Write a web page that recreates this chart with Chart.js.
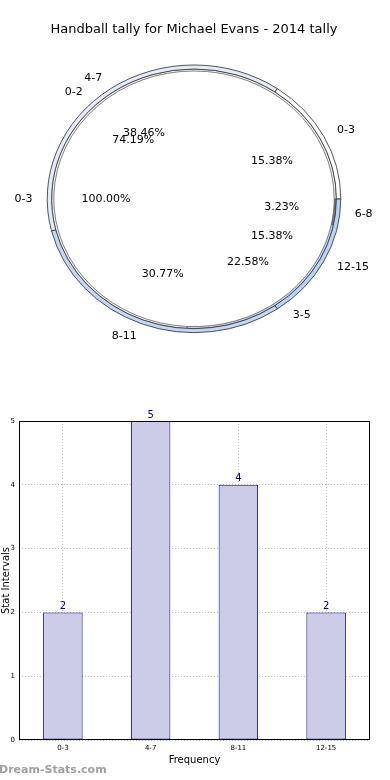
<!DOCTYPE html>
<html>
<head>
<meta charset="utf-8">
<script src="https://cdn.jsdelivr.net/npm/chart.js@4.4.1/dist/chart.umd.min.js"></script>
<style>
 body { margin: 0; background: #fff; width: 390px; height: 780px; position: relative; overflow: hidden; }
 #pieWrap { position: absolute; left: 0; top: 0; width: 390px; height: 400px; }
 #barWrap { position: absolute; left: 0; top: 400px; width: 390px; height: 380px; }
 #mark { position: absolute; left: -1px; top: 763px; font: bold 11px "DejaVu Sans", sans-serif; color: #a0a0a0; }
</style>
</head>
<body>
<div id="pieWrap"><canvas id="pieChart"></canvas></div>
<div id="barWrap"><canvas id="barChart"></canvas></div>
<div id="mark">Dream-Stats.com</div>
<script>
// データ
const chartTitle = "Handball tally for Michael Evans - 2014 tally";
const innerLabels = ["0-3"];
const innerValues = [1];
const middleLabels = ["0-2", "3-5", "6-8"];
const middleValues = [23, 7, 1];
const outerLabels = ["0-3", "4-7", "8-11", "12-15"];
const outerValues = [2, 5, 4, 2];
const barLabels = ["0-3", "4-7", "8-11", "12-15"];
const barValues = [2, 5, 4, 2];

const font = "DejaVu Sans";
const stretchX = 1.097; // 楕円っぽく横に伸ばす

// matplotlib は反時計回りなので逆順で時計回りに描く
const rev = a => a.slice().reverse();

const pieData = {
 labels: rev(outerLabels),
 datasets: [
  {
   data: rev(outerValues),
   names: rev(outerLabels),
   backgroundColor: rev(["#ffffff", "#e4ebfa", "#c4d6f6", "#b6d4fb"]),
   borderColor: "#333333",
   borderWidth: 0.8,
   weight: 4
  },
  {
   data: rev(middleValues),
   names: rev(middleLabels),
   backgroundColor: rev(["#f4f4f4", "#c8d8f0", "#7a7a7a"]),
   borderColor: "#555555",
   borderWidth: 0.7,
   weight: 2
  },
  {
   data: innerValues,
   names: innerLabels,
   backgroundColor: ["#ffffff"],
   borderWidth: 0,
   weight: 128
  }
 ]
};

const stretchPlugin = {
 id: "stretch",
 beforeDatasetsDraw(chart) {
  const a = chart.chartArea;
  const cx = (a.left + a.right) / 2, cy = (a.top + a.bottom) / 2;
  const ctx = chart.ctx;
  ctx.save();
  ctx.translate(cx, cy);
  ctx.scale(stretchX, 1);
  ctx.translate(-cx, -cy);
 },
 afterDatasetsDraw(chart) {
  chart.ctx.restore();
 }
};

const pieLabelPlugin = {
 id: "pieLabels",
 afterDraw(chart) {
  const ctx = chart.ctx;
  ctx.save();
  ctx.font = "11px " + font;
  ctx.fillStyle = "#000";
  ctx.textBaseline = "middle";
  chart.data.datasets.forEach((ds, i) => {
   const meta = chart.getDatasetMeta(i);
   const total = ds.data.reduce((s, v) => s + v, 0);
   meta.data.forEach((arc, j) => {
    const r = chart.getDatasetMeta(0).data[0].outerRadius;
    const mid = (arc.startAngle + arc.endAngle) / 2;
    const c = Math.cos(mid), s = Math.sin(mid);
    // パーセント
    ctx.textAlign = "center";
    ctx.fillText((ds.data[j] / total * 100).toFixed(2) + "%", arc.x + c * r * 0.6 * stretchX, arc.y + s * r * 0.6);
    // ラベル
    ctx.textAlign = c > 0.001 ? "left" : "right";
    ctx.fillText(ds.names[j], arc.x + c * r * 1.1 * stretchX, arc.y + s * r * 1.1);
   });
  });
  ctx.restore();
 }
};

new Chart(document.getElementById("pieChart"), {
 type: "doughnut",
 data: pieData,
 options: {
  responsive: true,
  maintainAspectRatio: false,
  animation: false,
  rotation: 90,
  cutout: 0,
  layout: { padding: { left: 0, right: 2, bottom: 67, top: 0 } },
  plugins: {
   legend: { display: false },
   tooltip: { enabled: false },
   title: {
    display: true,
    text: chartTitle,
    color: "#000",
    font: { family: font, size: 13, weight: "normal", lineHeight: 1.2 },
    padding: { top: 22, bottom: 27 }
   }
  }
 },
 plugins: [stretchPlugin, pieLabelPlugin]
});

// 棒グラフ
const boxPlugin = {
 id: "box",
 afterDraw(chart) {
  const a = chart.chartArea, ctx = chart.ctx;
  ctx.save();
  ctx.strokeStyle = "#000";
  ctx.lineWidth = 1;
  ctx.strokeRect(Math.round(a.left) + 0.5, Math.round(a.top) + 0.5, Math.round(a.right - a.left) - 1, Math.round(a.bottom - a.top) - 1);
  ctx.restore();
 }
};

const valuePlugin = {
 id: "values",
 afterDatasetsDraw(chart) {
  const ctx = chart.ctx;
  ctx.save();
  ctx.font = "10px " + font;
  ctx.fillStyle = "#00008b";
  ctx.textAlign = "center";
  ctx.textBaseline = "bottom";
  chart.getDatasetMeta(0).data.forEach((bar, i) => {
   ctx.fillText(String(barValues[i]), bar.x, bar.y - 1);
  });
  ctx.restore();
 }
};

new Chart(document.getElementById("barChart"), {
 type: "bar",
 data: {
  labels: barLabels,
  datasets: [{
   data: barValues,
   backgroundColor: "#cccce6",
   borderColor: "#00008b",
   borderWidth: 1,
   borderSkipped: false,
   categoryPercentage: 1,
   barPercentage: 0.45
  }]
 },
 options: {
  responsive: true,
  maintainAspectRatio: false,
  animation: false,
  layout: { padding: { top: 21, right: 20, bottom: 14, left: 0 } },
  plugins: { legend: { display: false }, tooltip: { enabled: false } },
  scales: {
   x: {
    grid: { color: "#bbbbbb", offset: false, drawTicks: false },
    border: { display: false, dash: [1, 2] },
    ticks: { color: "#000", font: { family: font, size: 7 }, padding: 4 },
    title: { display: true, text: "Frequency", color: "#000", font: { family: font, size: 10 }, padding: 0 },
    afterFit(scale) { scale.height = 26; }
   },
   y: {
    min: 0,
    max: 5,
    grid: { color: "#bbbbbb", drawTicks: false },
    border: { display: false, dash: [1, 2] },
    ticks: { stepSize: 1, color: "#000", font: { family: font, size: 7 }, padding: 4 },
    title: { display: true, text: "Stat Intervals", color: "#000", font: { family: font, size: 10 }, padding: 0 },
    afterFit(scale) { scale.width = 19; }
   }
  }
 },
 plugins: [boxPlugin, valuePlugin]
});
</script>
</body>
</html>
